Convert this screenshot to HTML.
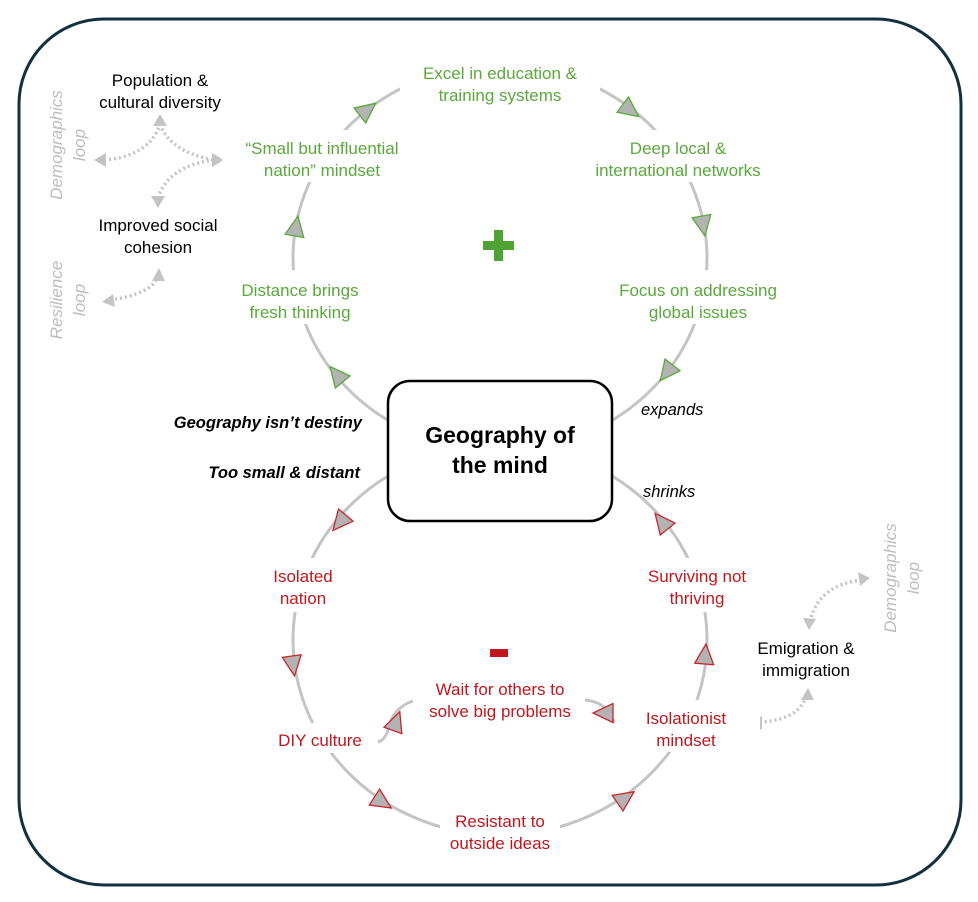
<!DOCTYPE html>
<html><head><meta charset="utf-8"><style>
body{margin:0;background:#fff;}
svg{display:block;font-family:"Liberation Sans",sans-serif;}
</style></head><body>
<svg width="978" height="902" viewBox="0 0 978 902" xmlns="http://www.w3.org/2000/svg">
<rect x="19" y="19" width="942" height="866" rx="85" fill="#fff" stroke="#13303f" stroke-width="3"/>
<defs>
<polygon id="tg" points="-9,-9.5 11,0 -9,9.5" fill="#b3b3b3" stroke="#5aaa3a" stroke-width="1.3"/>
<polygon id="tr" points="-9,-9.5 11,0 -9,9.5" fill="#b3b3b3" stroke="#c8262d" stroke-width="1.3"/>
</defs>
<g fill="none" stroke="#c4c4c4" stroke-width="3">
<ellipse cx="500" cy="258" rx="207" ry="193"/>
<ellipse cx="500" cy="640" rx="207" ry="195"/>
<path d="M413,701 Q392,708 388,730 Q385,740 378,742"/>
<path d="M585,700 Q605,702 612,718 Q618,728 632,730"/>
</g>
<g fill="none" stroke="#c4c4c4" stroke-width="3.5" stroke-dasharray="2 3">
<path d="M104,160 Q150,156 160,124"/>
<path d="M160,124 Q170,152 214,160"/>
<path d="M214,160 Q168,166 158,198"/>
<path d="M110,300 Q152,294 158,276"/>
<path d="M810,622 Q818,585 862,580"/>
<path d="M806,696 Q800,718 764,722"/>
</g>
<g fill="#c4c4c4">
<polygon points="160,114 153,126 167,126"/>
<polygon points="94,160 106,153 106,167"/>
<polygon points="224,160 212,153 212,167"/>
<polygon points="158,208 151,196 165,196"/>
<polygon points="159,268 152,281 165,281"/>
<polygon points="102,302 113,294 115,307"/>
<polygon points="870,578 858,572 860,586"/>
<polygon points="809,630 803,618 816,619"/>
<polygon points="808,688 801,700 814,700"/>
<polygon points="750,723 762,716 762,730"/>
</g>
<g fill="#fff">
<rect x="400" y="56" width="200" height="52"/>
<rect x="222" y="130" width="200" height="52"/>
<rect x="580" y="130" width="200" height="52"/>
<rect x="225" y="270" width="150" height="54"/>
<rect x="605" y="270" width="190" height="54"/>
<rect x="255" y="558" width="100" height="54"/>
<rect x="635" y="558" width="125" height="54"/>
<rect x="265" y="723" width="110" height="30"/>
<rect x="615" y="700" width="145" height="52"/>
<rect x="440" y="803" width="120" height="54"/>
</g>
<rect x="388" y="381" width="224" height="140" rx="22" fill="#fff" stroke="#000" stroke-width="2.5"/>
<use href="#tg" transform="translate(337,375) rotate(230.6)"/>
<use href="#tg" transform="translate(296,227) rotate(-80)"/>
<use href="#tg" transform="translate(367,110) rotate(-38)"/>
<use href="#tg" transform="translate(630,110) rotate(37)"/>
<use href="#tg" transform="translate(703,225) rotate(80)"/>
<use href="#tg" transform="translate(667,372) rotate(128)"/>
<use href="#tr" transform="translate(340,522) rotate(130)"/>
<use href="#tr" transform="translate(293,665) rotate(82)"/>
<use href="#tr" transform="translate(382,802) rotate(33)"/>
<use href="#tr" transform="translate(625,798) rotate(-35)"/>
<use href="#tr" transform="translate(705,655) rotate(-85)"/>
<use href="#tr" transform="translate(662,522) rotate(-129)"/>
<use href="#tr" transform="translate(396,722) rotate(-70)"/>
<use href="#tr" transform="translate(604,713) rotate(180)"/>
<rect x="483" y="241" width="31" height="9" fill="#4fa332"/>
<rect x="494" y="230" width="9" height="31" fill="#4fa332"/>
<rect x="490" y="649" width="18" height="8" fill="#c0171f"/>
<g font-size="17" text-anchor="middle">
<g fill="#000">
<text x="160" y="86">Population &amp;</text>
<text x="160" y="108">cultural  diversity</text>
<text x="158" y="231">Improved social</text>
<text x="158" y="253">cohesion</text>
<text x="806" y="654">Emigration &amp;</text>
<text x="806" y="676">immigration</text>
</g>
<g fill="#5aa83c">
<text x="500" y="79">Excel in education &amp;</text>
<text x="500" y="101">training systems</text>
<text x="322" y="154">“Small but influential</text>
<text x="322" y="176">nation” mindset</text>
<text x="678" y="154">Deep local &amp;</text>
<text x="678" y="176">international networks</text>
<text x="300" y="296">Distance brings</text>
<text x="300" y="318">fresh thinking</text>
<text x="698" y="296">Focus on addressing</text>
<text x="698" y="318">global issues</text>
</g>
<g fill="#c0171f">
<text x="303" y="582">Isolated</text>
<text x="303" y="604">nation</text>
<text x="697" y="582">Surviving not</text>
<text x="697" y="604">thriving</text>
<text x="500" y="695">Wait for others to</text>
<text x="500" y="717">solve big problems</text>
<text x="320" y="746">DIY culture</text>
<text x="686" y="724">Isolationist</text>
<text x="686" y="746">mindset</text>
<text x="500" y="827">Resistant to</text>
<text x="500" y="849">outside ideas</text>
</g>
<g fill="#bdbdbd" font-style="italic">
<text transform="translate(66,145) rotate(-90)"><tspan x="0" y="-4">Demographics</tspan><tspan x="0" y="19">loop</tspan></text>
<text transform="translate(66,300) rotate(-90)"><tspan x="0" y="-4">Resilience</tspan><tspan x="0" y="19">loop</tspan></text>
<text transform="translate(900,578) rotate(-90)"><tspan x="0" y="-4">Demographics</tspan><tspan x="0" y="19">loop</tspan></text>
</g>
</g>
<g font-size="16.5" font-style="italic">
<text x="362" y="428" text-anchor="end" font-weight="bold">Geography isn’t destiny</text>
<text x="360" y="478" text-anchor="end" font-weight="bold">Too small &amp; distant</text>
<text x="641" y="415">expands</text>
<text x="643" y="497">shrinks</text>
</g>
<g font-size="23" font-weight="bold" text-anchor="middle">
<text x="500" y="443">Geography of</text>
<text x="500" y="473">the mind</text>
</g>
</svg>
</body></html>
